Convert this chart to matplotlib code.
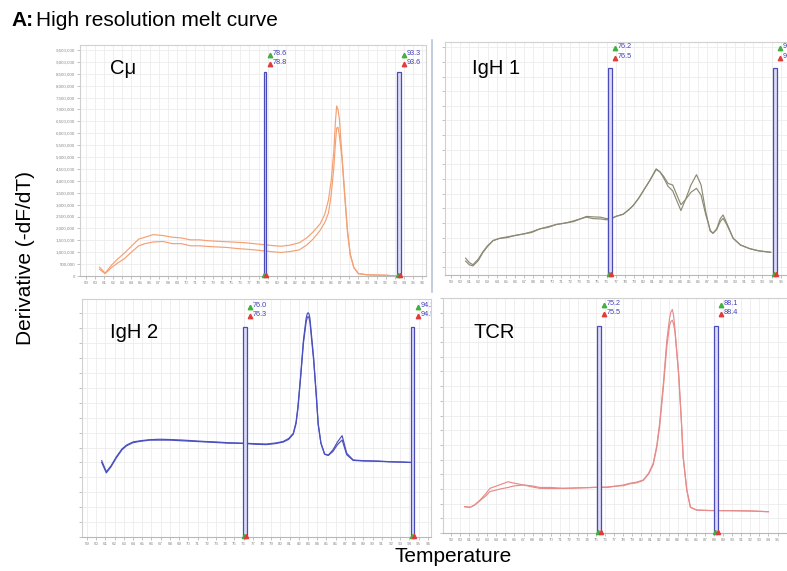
import matplotlib
matplotlib.use('Agg')
import matplotlib.pyplot as plt
import matplotlib.transforms as mtransforms
from matplotlib.patches import Rectangle
from matplotlib.lines import Line2D
from matplotlib.ticker import MultipleLocator, FuncFormatter

plt.rcParams['font.family'] = ['Liberation Sans', 'DejaVu Sans']

W, H = 787, 571

# Cmu melt curves (values in millions of -dF/dT units)
cmu_temp = [60.5, 61.1, 61.8, 62.5, 63.2, 64.0, 64.8, 65.5, 66.4, 67.5,
            68.5, 69.5, 70.5, 71.5, 72.5, 73.5, 74.5, 75.5, 76.5, 77.5,
            78.5, 79.5, 80.5, 81.5, 82.5, 83.3, 84.0, 84.8, 85.3, 85.7,
            86.0, 86.3, 86.45, 86.6, 86.75, 86.9, 87.2, 87.5, 87.8, 88.1,
            88.5, 89.0, 90.0, 91.0, 92.0, 93.4]
cmu_a = [0.37, 0.12, 0.45, 0.72, 0.95, 1.25, 1.55, 1.63, 1.74, 1.70,
         1.63, 1.60, 1.52, 1.52, 1.48, 1.46, 1.44, 1.42, 1.40, 1.36,
         1.32, 1.28, 1.25, 1.30, 1.40, 1.60, 1.85, 2.20, 2.60, 3.20,
         4.00, 5.30, 6.40, 7.15, 7.00, 6.60, 5.00, 3.40, 1.90, 0.90,
         0.35, 0.10, 0.05, 0.04, 0.03, 0.00]
cmu_b = [0.28, 0.10, 0.35, 0.55, 0.72, 1.00, 1.27, 1.36, 1.43, 1.45,
         1.36, 1.36, 1.27, 1.27, 1.24, 1.22, 1.20, 1.16, 1.13, 1.10,
         1.06, 1.02, 0.99, 1.03, 1.10, 1.30, 1.55, 1.93, 2.25, 2.65,
         3.40, 4.60, 5.50, 6.22, 6.25, 5.90, 4.90, 3.30, 1.80, 0.90,
         0.35, 0.10, 0.05, 0.04, 0.03, 0.00]

# IgH 1 (unlabelled y scale)
igh1_temp = [60.6, 61.0, 61.4, 62.0, 62.5, 63.0, 63.6, 64.3, 65.1, 66.0,
             66.9, 67.8, 68.7, 69.6, 70.5, 71.5, 72.4, 73.2, 73.8, 74.5,
             75.3, 76.0, 76.4, 77.0, 77.8, 78.4, 78.9, 79.5, 80.0, 80.7,
             81.4, 81.8, 82.2, 82.7, 83.2, 83.6, 84.1, 84.6, 85.2, 85.8,
             86.3, 86.8, 87.3, 87.6, 88.0, 88.4, 88.7, 89.1, 89.8, 90.6,
             91.6, 92.6, 93.9]
igh1_a = [0.6, 0.3, 0.15, 0.55, 1.05, 1.45, 1.8, 1.95, 2.05, 2.15,
          2.25, 2.4, 2.6, 2.75, 2.9, 3.0, 3.15, 3.3, 3.45, 3.42,
          3.4, 3.3, 3.28, 3.45, 3.6, 3.9, 4.2, 4.7, 5.2, 5.9,
          6.65, 6.5, 6.1, 5.5, 5.2, 4.6, 3.85, 4.6, 5.6, 6.3,
          5.6, 3.8, 2.45, 2.3, 2.6, 3.3, 3.55, 3.0, 1.96, 1.5,
          1.25, 1.1, 1.0]
igh1_b = [0.4, 0.15, 0.07, 0.45, 1.0, 1.4, 1.8, 1.95, 2.0, 2.15,
          2.25, 2.35, 2.6, 2.7, 2.9, 3.0, 3.1, 3.3, 3.4, 3.3,
          3.28, 3.22, 3.26, 3.45, 3.6, 3.9, 4.2, 4.7, 5.2, 5.9,
          6.7, 6.5, 6.2, 5.7, 5.6, 5.0, 4.25, 4.6, 5.1, 5.37,
          4.9, 3.6, 2.5, 2.3, 2.55, 3.1, 3.32, 2.9, 1.96, 1.5,
          1.25, 1.1, 1.0]

# IgH 2
igh2_temp = [60.6, 61.1, 61.6, 62.2, 62.8, 63.3, 64.0, 64.8, 65.8, 66.9,
             68.0, 69.2, 70.5, 71.8, 73.0, 74.2, 75.2, 76.2, 77.3, 78.5,
             79.5, 80.3, 80.9, 81.4, 81.7, 81.9, 82.2, 82.5, 82.8, 82.9,
             83.0, 83.1, 83.2, 83.6, 83.9, 84.1, 84.4, 84.8, 85.2, 85.7,
             86.2, 86.7, 87.2, 87.9, 89.0, 90.5, 92.0, 93.3, 94.1]
igh2_a = [5.12, 4.38, 4.77, 5.39, 5.91, 6.17, 6.38, 6.46, 6.53, 6.56,
          6.54, 6.51, 6.46, 6.41, 6.38, 6.33, 6.31, 6.29, 6.26, 6.24,
          6.31, 6.41, 6.61, 6.96, 7.72, 8.74, 10.87, 13.22, 14.70, 14.95,
          15.05, 14.98, 14.70, 12.10, 9.53, 7.63, 6.31, 5.57, 5.50, 5.84,
          6.38, 6.80, 5.62, 5.17, 5.12, 5.10, 5.05, 5.03, 5.01]
igh2_b = [5.00, 4.30, 4.70, 5.32, 5.85, 6.12, 6.33, 6.42, 6.50, 6.50,
          6.50, 6.46, 6.42, 6.38, 6.34, 6.30, 6.29, 6.27, 6.22, 6.20,
          6.27, 6.37, 6.55, 6.90, 7.60, 8.60, 10.70, 13.00, 14.45, 14.68,
          14.79, 14.72, 14.45, 11.90, 9.40, 7.55, 6.28, 5.55, 5.47, 5.74,
          6.20, 6.51, 5.52, 5.14, 5.10, 5.08, 5.04, 5.02, 5.00]

# TCR
tcr_temp = [60.5, 61.1, 61.6, 62.2, 62.8, 63.3, 64.0, 64.6, 65.3, 65.9,
            67.0, 68.0, 68.8, 70.0, 71.4, 73.0, 75.1, 76.2, 77.3, 78.0,
            78.7, 79.5, 80.2, 80.8, 81.3, 81.7, 82.0, 82.4, 82.8, 83.1,
            83.25, 83.4, 83.55, 83.7, 84.1, 84.4, 84.6, 85.0, 85.4, 86.1,
            87.5, 89.8, 92.0, 94.0]
tcr_a = [1.79, 1.75, 1.90, 2.24, 2.65, 3.04, 3.20, 3.33, 3.49, 3.40,
         3.27, 3.13, 3.04, 3.03, 3.04, 3.07, 3.11, 3.13, 3.20, 3.27,
         3.38, 3.47, 3.61, 4.08, 4.74, 5.99, 7.46, 10.07, 13.13, 14.63,
         15.05, 15.22, 14.80, 13.81, 10.86, 7.69, 5.19, 2.93, 1.75, 1.56,
         1.53, 1.52, 1.50, 1.45]
tcr_b = [1.79, 1.75, 1.90, 2.20, 2.50, 2.82, 2.93, 3.02, 3.10, 3.20,
         3.27, 3.20, 3.10, 3.10, 3.04, 3.07, 3.11, 3.10, 3.20, 3.22,
         3.35, 3.42, 3.58, 4.02, 4.66, 5.85, 7.25, 9.80, 12.70, 14.15,
         14.40, 14.49, 14.20, 13.67, 10.80, 7.62, 5.15, 2.92, 1.75, 1.56,
         1.53, 1.52, 1.50, 1.45]

# melt region cursors (start, end temperature)
cmu_markers = [(78.6, 78.8), (93.3, 93.6)]
igh1_markers = [(76.2, 76.5), (94.2, 94.5)]
igh2_markers = [(76.0, 76.3), (94.2, 94.5)]
tcr_markers = [(75.2, 75.5), (88.1, 88.4)]

fig = plt.figure(figsize=(W / 100, H / 100), dpi=100)
fig.patch.set_facecolor('white')


def px_axes(left, top, right, bottom):
    return fig.add_axes([left / W, 1 - bottom / H, (right - left) / W, (bottom - top) / H])


panels = [
    dict(box=(80, 45, 426, 276), xlim=(58.34, 96.44), ylim=(0, 9.71), ystep=0.5,
         t=cmu_temp, curves=(cmu_a, cmu_b), color='#f4a074', name='C\u03bc', npos=(110, 68),
         markers=cmu_markers, top=0.883, ly=(0.957, 0.918), ylab=True, xmax_lab=96),
    dict(box=(445, 42, 793.6, 275), xlim=(58.35, 96.4), ylim=(-0.55, 15.36), ystep=1,
         t=igh1_temp, curves=(igh1_a, igh1_b), color='#8c8a74', name='IgH 1', npos=(472, 68),
         markers=igh1_markers, top=0.888, ly=(0.974, 0.931), ylab=False, xmax_lab=95),
    dict(box=(82, 299, 431, 537), xlim=(58.46, 96.35), ylim=(0, 15.97), ystep=1,
         t=igh2_temp, curves=(igh2_a, igh2_b), color='#4a50c0', name='IgH 2', npos=(110, 333),
         markers=igh2_markers, top=0.882, ly=(0.966, 0.929), ylab=False, xmax_lab=96),
    dict(box=(443, 298, 790.2, 533), xlim=(58.12, 96.4), ylim=(0, 16.0), ystep=1,
         t=tcr_temp, curves=(tcr_a, tcr_b), color='#e68c8a', name='TCR', npos=(473, 333),
         markers=tcr_markers, top=0.881, ly=(0.970, 0.932), ylab=False, xmax_lab=95),
]

for p in panels:
    ax = px_axes(*p['box'])
    ax.set_xlim(*p['xlim'])
    ax.set_ylim(*p['ylim'])
    ax.xaxis.set_major_locator(MultipleLocator(1))
    ax.yaxis.set_major_locator(MultipleLocator(p['ystep']))
    ax.grid(True, color='#ececec', lw=0.6)
    ax.set_axisbelow(True)
    for s in ax.spines.values():
        s.set_color('#d0d0d0')
        s.set_linewidth(0.8)
    ax.spines['bottom'].set_color('#b8b8b8')
    ax.tick_params(axis='both', length=2, width=0.5, color='#aaaaaa',
                   labelsize=3.2, labelcolor='#888888', pad=1.5)
    xmax_lab = p['xmax_lab']
    ax.xaxis.set_major_formatter(
        FuncFormatter(lambda v, pos, m=xmax_lab: f'{v:.0f}' if v <= m + 0.01 else ''))
    if p['ylab']:
        ax.yaxis.set_major_formatter(FuncFormatter(lambda v, pos: f'{v * 1e6:,.0f}'))
    else:
        ax.yaxis.set_major_formatter(FuncFormatter(lambda v, pos: ''))

    for c in p['curves']:
        ax.plot(p['t'], c, color=p['color'], lw=0.85)

    trans = mtransforms.blended_transform_factory(ax.transData, ax.transAxes)
    for lo, hi in p['markers']:
        mid = (lo + hi) / 2
        ax.add_patch(Rectangle((lo - 0.05, 0), hi - lo + 0.1, p['top'], transform=trans,
                               facecolor='#dcdcf6', edgecolor='#4b4bb8', lw=0.9, zorder=4))
        ax.plot([mid - 0.1], [0.005], marker='^', ms=3, color='#3fae3f', transform=trans,
                clip_on=False, zorder=5)
        ax.plot([mid + 0.15], [0.005], marker='^', ms=3, color='#e23a3a', transform=trans,
                clip_on=False, zorder=5)
        for yy, val, col in ((p['ly'][0], lo, '#43b043'), (p['ly'][1], hi, '#e03c3c')):
            ax.plot([mid + 0.55], [yy], marker='^', ms=3.2, color=col, transform=trans,
                    clip_on=True, zorder=5)
            ax.text(mid + 0.85, yy + 0.005, f'{val:.1f}', color='#4040b8', fontsize=5.2,
                    va='center', ha='left', transform=trans, clip_on=True)

    fig.text(p['npos'][0] / W, 1 - p['npos'][1] / H, p['name'], fontsize=14.5,
             ha='left', va='center')

# separator between the top screenshots
fig.add_artist(Line2D([432 / W, 432 / W], [1 - 40 / H, 1 - 292 / H],
                      color='#b9c3da', lw=1.2))

fig.text(11 / W, 1 - 20 / H, 'A:', fontsize=15, fontweight='bold', ha='left', va='center')
fig.text(36 / W, 1 - 20 / H, 'High resolution melt curve', fontsize=15, ha='left', va='center')
fig.text(26 / W, 1 - 258 / H, 'Derivative (-dF/dT)', fontsize=15, rotation=90,
         ha='center', va='center')
fig.text(453 / W, 1 - 557 / H, 'Temperature', fontsize=15, ha='center', va='center')

fig.savefig('out.png', dpi=100, facecolor='white')
